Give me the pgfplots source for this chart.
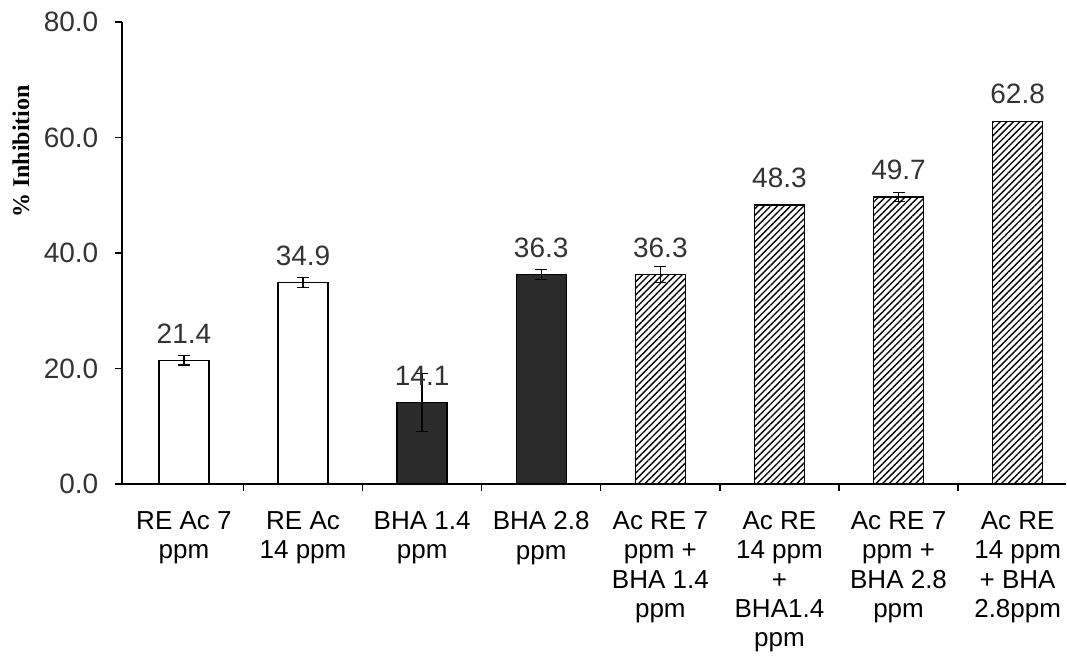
\documentclass[border=0pt]{standalone}
\usepackage{fontspec}
\setmainfont{Liberation Sans}
\newfontfamily\timesb{Liberation Serif}
\usepackage{pgfplots}
\pgfplotsset{compat=1.18}
\usetikzlibrary{patterns.meta}
\definecolor{txt}{HTML}{333333}
\definecolor{barblack}{HTML}{2B2B2B}
\begin{document}
\begin{tikzpicture}
\begin{axis}[
  scale only axis, width=708pt, height=346.5pt,
  xmin=-0.52, xmax=7.406, ymin=0, ymax=80,
  axis x line*=bottom, axis y line*=left,
  axis line style={-, line width=1pt, black},
  /pgf/number format/assume math mode=true,
  ytick={0,20,40,60,80},
  yticklabel style={/pgf/number format/fixed, /pgf/number format/fixed zerofill, /pgf/number format/precision=1, font=\fontsize{21pt}{24pt}\selectfont, xshift=-9pt},
  xtick={0,1,2,3,4,5,6,7},
  xticklabels={{RE Ac 7\\ppm},{RE Ac\\14 ppm},{BHA 1.4\\ppm},{BHA 2.8\\ppm},{Ac RE 7\\ppm +\\BHA 1.4\\ppm},{Ac RE\\14 ppm\\+\\BHA1.4\\ppm},{Ac RE 7\\ppm +\\BHA 2.8\\ppm},{Ac RE\\14 ppm\\+ BHA\\2.8ppm}},
  xticklabel style={align=center, anchor=north, text=black, font=\fontsize{19.5pt}{22pt}\selectfont, yshift=-12pt},
  major x tick style={draw=none},
  minor xtick={0.5,1.5,2.5,3.5,4.5,5.5,6.5},
  tick align=outside, major tick length=5.25pt, minor tick length=5.25pt,
  tick style={line width=1pt, black},
  ticklabel style={text=txt},
  ybar,
  bar width=37.5pt,
  nodes near coords,
  nodes near coords style={anchor=center, yshift=20.25pt, text=txt, font=\fontsize{21pt}{24pt}\selectfont, /pgf/number format/fixed, /pgf/number format/fixed zerofill, /pgf/number format/precision=1},
  clip=false,
]
\addplot[bar shift=0pt, draw=black, fill=white, line width=1pt,
  error bars/.cd, y dir=both, y explicit, error mark=|,
  error bar style={line width=1pt, black},
  error mark options={line width=1pt, mark size=4.5pt, black}]
  coordinates {(0,21.4) +- (0,0.8) (1,34.9) +- (0,0.9)};
\addplot[bar shift=0pt, draw=black, fill=barblack, line width=1pt,
  error bars/.cd, y dir=both, y explicit, error mark=|,
  error bar style={line width=1pt, black},
  error mark options={line width=1pt, mark size=4.5pt, black}]
  coordinates {(2,14.1) +- (0,5.0) (3,36.3) +- (0,0.9)};
\addplot[bar shift=0pt, draw=black, line width=1pt,
  pattern={Lines[angle=45,distance=3.5pt,line width=1pt]}, pattern color=black,
  error bars/.cd, y dir=both, y explicit, error mark=|,
  error bar style={line width=1pt, black},
  error mark options={line width=1pt, mark size=4.5pt, black}]
  coordinates {(4,36.3) +- (0,1.4) (6,49.7) +- (0,0.8)};
\addplot[bar shift=0pt, draw=black, line width=1pt,
  pattern={Lines[angle=45,distance=3.5pt,line width=1pt]}, pattern color=black]
  coordinates {(5,48.3) (7,62.8)};
\node[rotate=90, font=\timesb\bfseries\fontsize{18pt}{20pt}\selectfont, text=black] at ([xshift=-75.75pt]rel axis cs:0,0.72) {\% Inhibition};
\end{axis}
\pgfresetboundingbox
\path[use as bounding box] (-91.5pt,-132pt) rectangle (708.75pt,363pt);
\end{tikzpicture}
\end{document}
